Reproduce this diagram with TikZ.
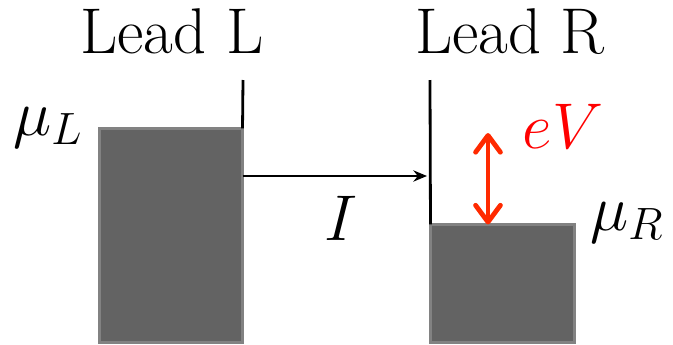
\documentclass[tikz,border=0pt]{standalone}
\usepackage{fix-cm}
\usepackage{amsmath, amssymb}
\usepackage{tikz}
\usetikzlibrary{positioning, arrows.meta}

\definecolor{levelgray}{HTML}{636363}
\definecolor{edgegray}{HTML}{828282}
\definecolor{biasred}{HTML}{FF2A00}

\begin{document}
\begin{tikzpicture}[
      x=0.025cm, y=-0.025cm,
      reservoir_box/.style={rectangle, fill=levelgray, draw=edgegray, line width=0.075cm, outer sep=0pt, inner sep=0pt},
      lead_label/.style={font=\fontsize{46}{50}\selectfont, inner sep=0pt},
      level_label/.style={font=\fontsize{46}{50}\selectfont, inner sep=0pt},
      edge_wall/.style={line width=0.07cm, black},
      edge_current/.style={-{Stealth[length=0.34cm, width=0.28cm]}, line width=0.07cm, black},
      edge_bias/.style={{Straight Barb[length=0.42cm, width=0.62cm, round]}-{Straight Barb[length=0.42cm, width=0.62cm, round]}, line width=0.12cm, biasred}
    ]
      \useasboundingbox (0,0) rectangle (673,344);

      \node[reservoir_box, minimum width=3.575cm, minimum height=5.35cm] (boxL) at (171,235.5) {};
      \node[reservoir_box, minimum width=3.6cm, minimum height=2.95cm] (boxR) at (502.5,283.5) {};

      \coordinate (topL) at (243,80);
      \coordinate (topR) at (430,80);
      \coordinate (tipI) at (427,176);
      \coordinate (eVtop) at (488,133);

      \node[lead_label, anchor=base] (leadL) at (172,53) {Lead L};
      \node[lead_label, anchor=base] (leadR) at (510,53) {Lead R};
      \node[level_label, anchor=base west] (muL) at (13,135) {$\mu_L$};
      \node[level_label, anchor=base west] (muR) at (590,230) {$\mu_R$};
      \node[level_label, anchor=base, text=red] (eV) at (563,148) {$eV$};
      \node[level_label, anchor=base] (cur) at (341,240) {$I$};

      \draw[edge_wall] (topL) -- (boxL.north east);
      \draw[edge_wall] (topR) -- (boxR.north west);
      \draw[edge_current] (boxL.east |- tipI) -- (tipI);
      \draw[edge_bias] (eVtop) -- (eVtop |- boxR.north);
    \end{tikzpicture}
\end{document}
